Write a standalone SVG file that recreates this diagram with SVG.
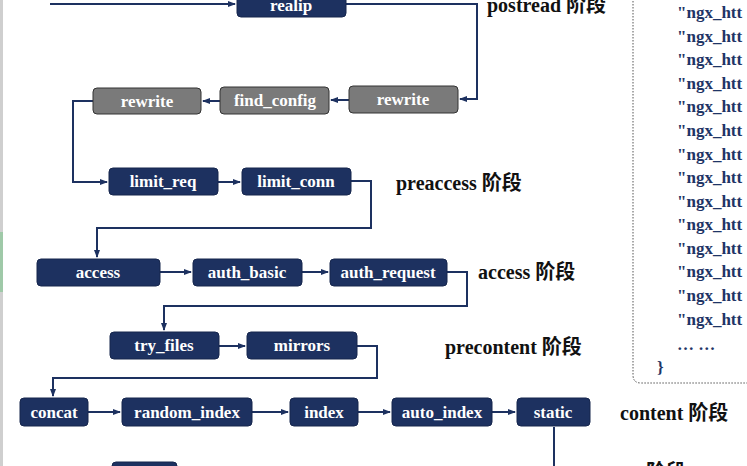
<svg xmlns="http://www.w3.org/2000/svg" width="747" height="466" viewBox="0 0 747 466">
<style>
.n{fill:#1d3160;stroke:#16264d;stroke-width:1}
.g{fill:#7a7a7a;stroke:#333;stroke-width:1}
.t{font-family:"Liberation Serif","Noto Sans CJK SC",serif;font-weight:bold;font-size:17px;fill:#fff;text-anchor:middle}
.l{font-family:"Liberation Serif","Noto Sans CJK SC",serif;font-weight:bold;font-size:20px;fill:#111}
.c{font-family:"Liberation Serif",serif;font-weight:bold;font-size:17px;fill:#1f3566}
.e{fill:none;stroke:#1d3160;stroke-width:2;marker-end:url(#a)}
</style>
<defs><marker id="a" markerWidth="8" markerHeight="8" refX="7" refY="4" orient="auto" markerUnits="userSpaceOnUse"><path d="M0,1 L8,4 L0,7 z" fill="#1d3160"/></marker></defs>
<rect width="747" height="466" fill="#fff"/>
<rect x="0" y="0" width="3" height="466" fill="#cfcfcf"/>
<rect x="0" y="232" width="3" height="60" fill="#9fc9a8"/>
<g id="connectors">
<path class="e" d="M50,4 H235"/>
<path class="e" d="M346,4 H477 V99 H460"/>
<path class="e" d="M349,100 H331"/>
<path class="e" d="M220,101 H203"/>
<path class="e" d="M93,101 H73 V182 H107"/>
<path class="e" d="M218,182 H240"/>
<path class="e" d="M351,181 H371 V228 H97 V257"/>
<path class="e" d="M160,272 H191"/>
<path class="e" d="M302,272 H328"/>
<path class="e" d="M447,272 H467 V306 H164 V330"/>
<path class="e" d="M219,346 H245"/>
<path class="e" d="M357,346 H377 V378 H53 V396"/>
<path class="e" d="M88,412 H120"/>
<path class="e" d="M252,412 H288"/>
<path class="e" d="M358,412 H390"/>
<path class="e" d="M492,412 H515"/>
<path d="M554,427 V466" fill="none" stroke="#1d3160" stroke-width="2"/>
</g>
<g id="realip"><rect class="n" x="237" y="-8" width="109" height="25" rx="4"/><text class="t" x="291" y="11">realip</text></g>
<g id="rewrite2"><rect class="g" x="349" y="86" width="109" height="27" rx="4"/><text class="t" x="403" y="105">rewrite</text></g>
<g id="find_config"><rect class="g" x="220" y="87" width="109" height="27" rx="4"/><text class="t" x="275" y="106">find_config</text></g>
<g id="rewrite1"><rect class="g" x="93" y="88" width="108" height="26" rx="4"/><text class="t" x="147" y="107">rewrite</text></g>
<g id="limit_req"><rect class="n" x="109" y="168" width="109" height="27" rx="4"/><text class="t" x="163" y="187">limit_req</text></g>
<g id="limit_conn"><rect class="n" x="242" y="168" width="109" height="27" rx="4"/><text class="t" x="296" y="187">limit_conn</text></g>
<g id="access"><rect class="n" x="37" y="259" width="123" height="27" rx="4"/><text class="t" x="98" y="278">access</text></g>
<g id="auth_basic"><rect class="n" x="193" y="259" width="109" height="27" rx="4"/><text class="t" x="247" y="278">auth_basic</text></g>
<g id="auth_request"><rect class="n" x="330" y="259" width="117" height="27" rx="4"/><text class="t" x="388" y="278">auth_request</text></g>
<g id="try_files"><rect class="n" x="110" y="332" width="109" height="27" rx="4"/><text class="t" x="164" y="351">try_files</text></g>
<g id="mirrors"><rect class="n" x="247" y="332" width="110" height="27" rx="4"/><text class="t" x="302" y="351">mirrors</text></g>
<g id="concat"><rect class="n" x="20" y="398" width="68" height="28" rx="4"/><text class="t" x="54" y="418">concat</text></g>
<g id="random_index"><rect class="n" x="122" y="398" width="130" height="28" rx="4"/><text class="t" x="187" y="418">random_index</text></g>
<g id="index"><rect class="n" x="290" y="398" width="68" height="28" rx="4"/><text class="t" x="324" y="418">index</text></g>
<g id="auto_index"><rect class="n" x="392" y="398" width="100" height="28" rx="4"/><text class="t" x="442" y="418">auto_index</text></g>
<g id="static"><rect class="n" x="517" y="398" width="73" height="28" rx="4"/><text class="t" x="553" y="418">static</text></g>
<g id="bottom"><rect class="n" x="112" y="462" width="65" height="20" rx="4"/></g>
<g id="labels">
<text class="l" x="487" y="12">postread 阶段</text>
<text class="l" x="396" y="190">preaccess 阶段</text>
<text class="l" x="478" y="279">access 阶段</text>
<text class="l" x="445" y="354">precontent 阶段</text>
<text class="l" x="620" y="420">content 阶段</text>
<text class="l" x="646" y="479">阶段</text>
</g>
<g id="code">
<path d="M633,-5 V375 Q633,383 641,383 H750" fill="none" stroke="#555" stroke-width="1" stroke-dasharray="1.5,1.5"/>
<text class="c" x="677" y="18">"ngx_htt</text>
<text class="c" x="677" y="42">"ngx_htt</text>
<text class="c" x="677" y="65">"ngx_htt</text>
<text class="c" x="677" y="89">"ngx_htt</text>
<text class="c" x="677" y="112">"ngx_htt</text>
<text class="c" x="677" y="136">"ngx_htt</text>
<text class="c" x="677" y="160">"ngx_htt</text>
<text class="c" x="677" y="183">"ngx_htt</text>
<text class="c" x="677" y="207">"ngx_htt</text>
<text class="c" x="677" y="230">"ngx_htt</text>
<text class="c" x="677" y="254">"ngx_htt</text>
<text class="c" x="677" y="277">"ngx_htt</text>
<text class="c" x="677" y="301">"ngx_htt</text>
<text class="c" x="677" y="325">"ngx_htt</text>
<text class="c" x="677" y="350">… …</text>
<text class="c" x="657" y="373">}</text>
</g>
</svg>
